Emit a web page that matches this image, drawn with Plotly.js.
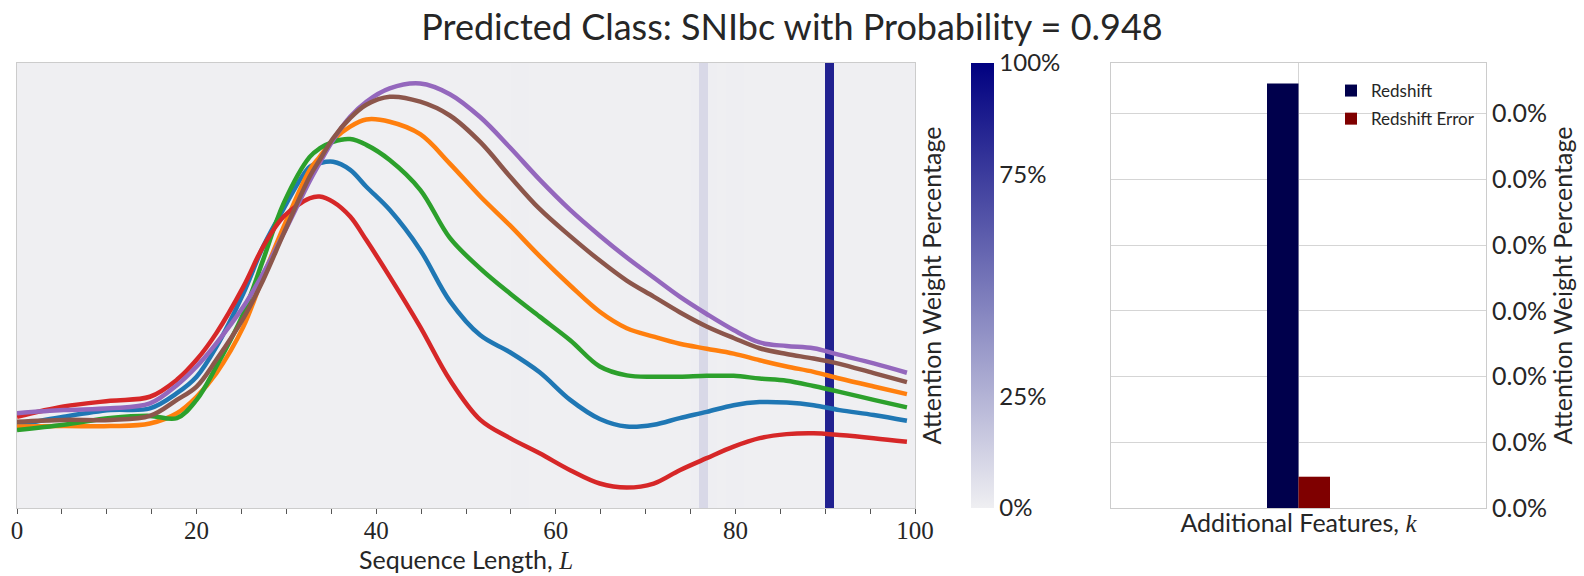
<!DOCTYPE html>
<html>
<head>
<meta charset="utf-8">
<script src="https://cdn.plot.ly/plotly-3.0.1.min.js"></script>
<style>
  html, body { margin: 0; padding: 0; background: #fff; }
  #chart { width: 1584px; height: 576px; }
</style>
</head>
<body>
<div id="chart"></div>
<script>
// positions along the sequence where the light curves were read
const seqPos = [0, 5.2, 10.4, 14.8, 17.8, 20.0, 22.2, 25.2, 27.4, 29.7,
  32.6, 33.7, 35.2, 37.1, 38.9, 41.5, 44.9, 48.2, 51.6, 54.9,
  58.2, 61.6, 64.9, 67.9, 70.9, 73.8, 76.8, 79.8, 82.7, 85.7,
  88.7, 91.6, 95.4, 99.1];

// one curve per passband (arbitrary flux units, 0 = bottom of the panel)
const fluxBlue = [0.186, 0.205, 0.220, 0.224, 0.258, 0.295, 0.362, 0.482, 0.587, 0.673,
  0.767, 0.775, 0.778, 0.760, 0.722, 0.670, 0.580, 0.465, 0.388, 0.350,
  0.305, 0.243, 0.200, 0.183, 0.187, 0.202, 0.216, 0.231, 0.238, 0.237,
  0.231, 0.220, 0.209, 0.196];
const fluxOrange = [0.183, 0.184, 0.184, 0.190, 0.213, 0.250, 0.303, 0.407, 0.520, 0.632,
  0.760, 0.789, 0.827, 0.857, 0.873, 0.868, 0.840, 0.774, 0.700, 0.635,
  0.566, 0.500, 0.441, 0.404, 0.385, 0.369, 0.358, 0.347, 0.332, 0.318,
  0.306, 0.291, 0.273, 0.256];
const fluxGreen = [0.175, 0.187, 0.202, 0.207, 0.202, 0.243, 0.318, 0.437, 0.557, 0.685,
  0.789, 0.808, 0.823, 0.829, 0.816, 0.782, 0.715, 0.607, 0.538, 0.482,
  0.430, 0.377, 0.318, 0.298, 0.295, 0.295, 0.297, 0.297, 0.291, 0.286,
  0.274, 0.261, 0.243, 0.226];
const fluxRed = [0.205, 0.228, 0.241, 0.250, 0.288, 0.333, 0.393, 0.497, 0.587, 0.655,
  0.696, 0.700, 0.688, 0.655, 0.602, 0.520, 0.407, 0.288, 0.198, 0.157,
  0.123, 0.085, 0.055, 0.046, 0.055, 0.085, 0.112, 0.138, 0.157, 0.166,
  0.168, 0.164, 0.157, 0.149];
const fluxPurple = [0.213, 0.220, 0.224, 0.235, 0.276, 0.318, 0.370, 0.452, 0.527, 0.617,
  0.735, 0.775, 0.827, 0.879, 0.913, 0.943, 0.954, 0.930, 0.878, 0.810,
  0.738, 0.670, 0.612, 0.563, 0.518, 0.475, 0.436, 0.400, 0.372, 0.364,
  0.359, 0.344, 0.325, 0.304];
const fluxBrown = [0.194, 0.198, 0.198, 0.207, 0.243, 0.273, 0.333, 0.426, 0.512, 0.617,
  0.745, 0.782, 0.831, 0.876, 0.906, 0.924, 0.913, 0.882, 0.822, 0.745,
  0.672, 0.611, 0.556, 0.511, 0.475, 0.440, 0.408, 0.382, 0.359, 0.346,
  0.336, 0.324, 0.303, 0.283];

// attention weight (%) for each of the 100 sequence steps
const attention = [
  0.02, 0.02, 0.02, 0.02, 0.02, 0.02, 0.02, 0.02, 0.02, 0.02,
  0.02, 0.02, 0.02, 0.02, 0.02, 0.02, 0.02, 0.02, 0.02, 0.02,
  0.02, 0.02, 0.02, 0.02, 0.02, 0.02, 0.02, 0.02, 0.02, 0.02,
  0.02, 0.02, 0.02, 0.02, 0.02, 0.02, 0.02, 0.02, 0.02, 0.02,
  0.02, 0.02, 0.02, 0.02, 0.02, 0.02, 0.02, 0.02, 0.02, 0.02,
  0.02, 0.02, 0.02, 0.02, 0.02, 0.5, 0.4, 0.2, 0.02, 0.02,
  0.02, 0.02, 0.02, 0.02, 0.02, 0.02, 0.02, 0.02, 0.02, 0.02,
  0.02, 0.02, 0.02, 0.02, 0.02, 0.3, 9.6, 0.3, 0.02, 0.4,
  0.3, 0.02, 0.02, 0.02, 0.02, 0.02, 0.02, 0.02, 0.02, 0.02,
  86, 0.02, 0.02, 0.02, 0.02, 0.02, 0.02, 0.02, 0.02, 0.02];

// additional (non sequence) features and their attention weights
const featureNames = ['Redshift', 'Redshift Error'];
const featureWeights = [0.000323, 0.0000238];
const featureColors = ['#00004c', '#7f0000'];

const cbTicks = [0, 25, 75, 100];
const cbLabels = ['0%', '25%', '75%', '100%'];

// page is 1584 x 576, margins are zero so domains map straight to pixels
const W = 1584;
const H = 576;
const xDom = (a, b) => [a / W, b / W];
const yDom = (top, bottom) => [1 - bottom / H, 1 - top / H];

const SANS = 'Lato, Open Sans, sans-serif';
const SERIF = 'Liberation Serif, DejaVu Serif, serif';
const INK = '#262626';
const FRAME = '#cccccc';

const curves = [
  { y: fluxBlue, color: '#1f77b4' },
  { y: fluxOrange, color: '#ff7f0e' },
  { y: fluxGreen, color: '#2ca02c' },
  { y: fluxRed, color: '#d62728' },
  { y: fluxPurple, color: '#9467bd' },
  { y: fluxBrown, color: '#8c564b' },
];

// attention heat strip behind the curves
const traces = [{
  type: 'heatmap',
  x: attention.map((_, i) => i + 0.5),
  y: [0.5],
  z: [attention],
  zmin: 0,
  zmax: 100,
  colorscale: [[0, '#efeff2'], [1, '#000080']],
  hoverinfo: 'skip',
  xaxis: 'x',
  yaxis: 'y',
  colorbar: {
    x: 971 / W,
    xanchor: 'left',
    y: 1 - 285.5 / H,
    yanchor: 'middle',
    thickness: 23,
    thicknessmode: 'pixels',
    len: 445,
    lenmode: 'pixels',
    xpad: 0,
    ypad: 0,
    outlinewidth: 0,
    ticks: '',
    ticklabelpad: 0,
    tickvals: cbTicks,
    ticktext: cbLabels,
    tickfont: { family: SANS, size: 24, color: INK },
  },
}];

curves.forEach((c) => {
  traces.push({
    type: 'scatter',
    mode: 'lines',
    x: seqPos,
    y: c.y,
    line: { color: c.color, width: 4.5, shape: 'spline', smoothing: 1 },
    hoverinfo: 'skip',
    showlegend: false,
    xaxis: 'x',
    yaxis: 'y',
  });
});

featureNames.forEach((name, i) => {
  traces.push({
    type: 'bar',
    name,
    x: [0],
    y: [featureWeights[i]],
    marker: { color: featureColors[i], line: { width: 0 } },
    legendgroup: name,
    xaxis: 'x2',
    yaxis: 'y2',
  });
});

const layout = {
  width: W,
  height: H,
  margin: { l: 0, r: 0, t: 0, b: 0 },
  paper_bgcolor: '#ffffff',
  plot_bgcolor: '#ffffff',
  font: { family: SANS, color: INK },
  title: {
    text: 'Predicted Class: SNIbc with Probability = 0.948',
    x: 0.5,
    xanchor: 'center',
    y: 1 - 27 / H,
    yanchor: 'middle',
    font: { family: SANS, size: 36, color: INK },
  },
  barmode: 'group',
  bargap: 0.664,
  showlegend: true,
  legend: {
    x: 1331 / W,
    xanchor: 'left',
    y: 1 - 73 / H,
    yanchor: 'top',
    bgcolor: 'rgba(0,0,0,0)',
    font: { family: SANS, size: 17, color: INK },
    tracegroupgap: 3,
  },
  xaxis: {
    domain: xDom(17, 915),
    range: [0, 100],
    tickmode: 'array',
    tickvals: [0, 20, 40, 60, 80, 100],
    ticks: '',
    tickfont: { family: SERIF, size: 25, color: INK },
    minor: { dtick: 5, ticks: 'outside', ticklen: 5, tickwidth: 1, tickcolor: '#555555', showgrid: false },
    showgrid: false,
    zeroline: false,
    showline: true,
    mirror: true,
    linecolor: FRAME,
    linewidth: 1,
    title: {
      text: 'Sequence Length, <i><span style="font-family:Liberation Serif">L</span></i>',
      font: { family: SANS, size: 25, color: INK },
      standoff: 4,
    },
    automargin: false,
  },
  yaxis: {
    domain: yDom(63, 508),
    range: [0, 1],
    side: 'right',
    showticklabels: false,
    ticks: '',
    showgrid: false,
    zeroline: false,
    showline: true,
    mirror: true,
    linecolor: FRAME,
    linewidth: 1,
    title: {
      text: 'Attention Weight Percentage',
      font: { family: SANS, size: 25, color: INK },
      standoff: 8,
    },
    automargin: false,
  },
  xaxis2: {
    domain: xDom(1111, 1486),
    anchor: 'y2',
    range: [-1, 1],
    tickvals: [0],
    showticklabels: false,
    ticks: '',
    showgrid: true,
    gridcolor: '#d5d5d5',
    zeroline: false,
    showline: true,
    mirror: true,
    linecolor: FRAME,
    linewidth: 1,
    title: {
      text: 'Additional Features, <i><span style="font-family:Liberation Serif">k</span></i>',
      font: { family: SANS, size: 25, color: INK },
      standoff: 6,
    },
    automargin: false,
  },
  yaxis2: {
    domain: yDom(63, 508),
    anchor: 'x2',
    side: 'right',
    range: [0, 0.0003385],
    dtick: 0.00005,
    tickformat: '.1%',
    ticks: '',
    tickfont: { family: SANS, size: 25, color: INK },
    showgrid: true,
    gridcolor: '#d5d5d5',
    zeroline: false,
    showline: true,
    mirror: true,
    linecolor: FRAME,
    linewidth: 1,
    title: {
      text: 'Attention Weight Percentage',
      font: { family: SANS, size: 25, color: INK },
      standoff: 6,
    },
    automargin: false,
  },
};

Plotly.newPlot('chart', traces, layout, { displayModeBar: false, staticPlot: true });
</script>
</body>
</html>
